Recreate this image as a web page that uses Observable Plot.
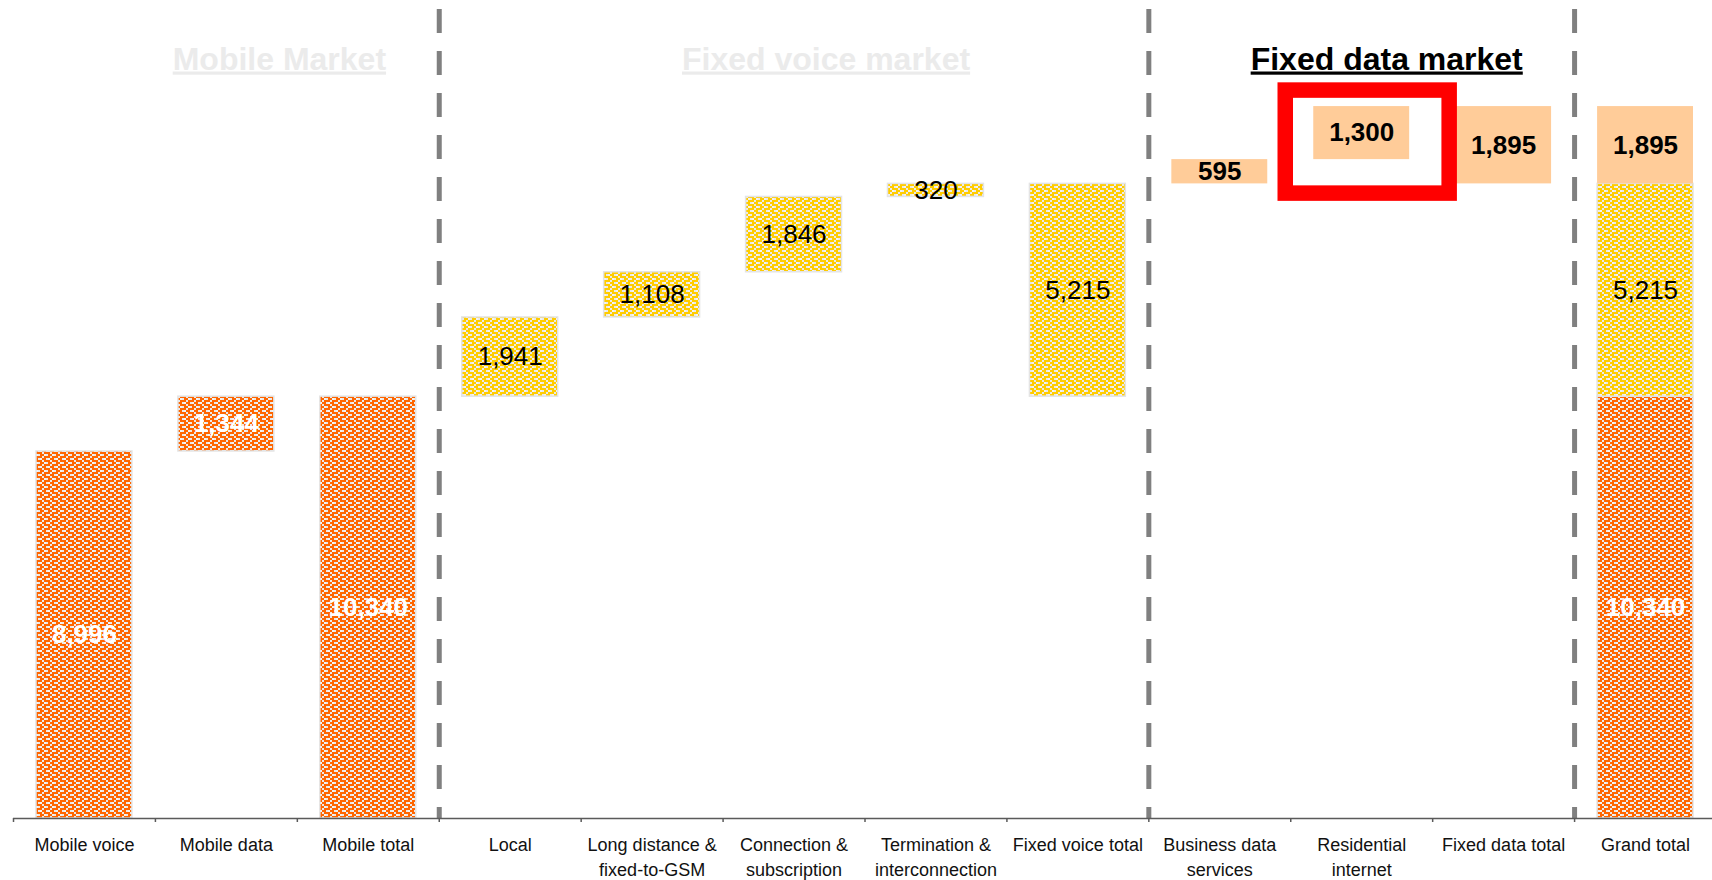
<!DOCTYPE html>
<html>
<head>
<meta charset="utf-8">
<script src="https://cdn.jsdelivr.net/npm/d3@7"></script>
<script src="https://cdn.jsdelivr.net/npm/@observablehq/plot@0.6"></script>
<style>
  html, body { margin: 0; padding: 0; background: #ffffff; overflow: hidden; }
</style>
</head>
<body>
<div id="chart"></div>
<script>
// ---- data ----
const categories = [
  "Mobile voice", "Mobile data", "Mobile total",
  "Local", "Long distance &\nfixed-to-GSM", "Connection &\nsubscription",
  "Termination &\ninterconnection", "Fixed voice total",
  "Business data\nservices", "Residential\ninternet", "Fixed data total",
  "Grand total"
];
const markets = ["mobile", "mobile", "mobile", "voice", "voice", "voice", "voice", "voice", "data", "data", "data", "all"];
const kinds = ["step", "step", "total", "step", "step", "step", "step", "total", "step", "step", "total", "grand"];
const values = [8996, 1344, 10340, 1941, 1108, 1846, 320, 5215, 595, 1300, 1895, 17450];
const marketKeys = ["mobile", "voice", "data"];
const sectionTitles = ["Mobile Market", "Fixed voice market", "Fixed data market"];
const sectionAnchors = ["Mobile data", "Connection &\nsubscription", "Residential\ninternet"];
const separators = ["Local", "Business data\nservices", "Grand total"];
const highlighted = "Residential\ninternet";

// ---- waterfall layout built from the data ----
const rows = [];
const marketStart = {};
const marketTotal = {};
let running = 0;
categories.forEach((cat, i) => {
  const m = markets[i], v = values[i], k = kinds[i];
  if (k === "step") {
    if (!(m in marketStart)) marketStart[m] = running;
    rows.push({cat, market: m, kind: k, value: v, y1: running, y2: running + v});
    running += v;
  } else if (k === "total") {
    marketTotal[m] = v;
    rows.push({cat, market: m, kind: k, value: v, y1: marketStart[m], y2: marketStart[m] + v});
  } else {
    marketKeys.forEach(mk => {
      rows.push({cat, market: mk, kind: k, value: marketTotal[mk], y1: marketStart[mk], y2: marketStart[mk] + marketTotal[mk]});
    });
  }
});

// ---- styling ----
const W = 1712, H = 880;
const marginLeft = 13, marginRight = -4, marginTop = 0, marginBottom = 62;
const step = (W - marginLeft - marginRight) / categories.length;
const font = "'Liberation Sans', Arial, Helvetica, sans-serif";
const fmt = d3.format(",");
const fills = {mobile: "url(#chkOrange)", voice: "url(#chkYellow)", data: "#FFCC99"};
const labelFills = {mobile: "#ffffff", voice: "#000000", data: "#000000"};
const labelWeights = {mobile: "bold", voice: "normal", data: "bold"};
const inset = 23;
const titleFills = ["#EBEBEB", "#EBEBEB", "#000000"];
const titleDx = [53, 32, 25];

const marks = [];

// dashed separators between markets
marks.push(Plot.ruleX(separators, {
  x: d => d, dx: -step / 2, stroke: "#808080", strokeWidth: 5,
  strokeDasharray: "24,18", strokeDashoffset: 33
}));

// bars
marketKeys.forEach(m => {
  const sel = rows.filter(r => r.market === m);
  marks.push(Plot.barY(sel, {
    x: "cat", y1: "y1", y2: "y2",
    fill: fills[m],
    stroke: m === "data" ? "none" : "#E4E4E4",
    strokeWidth: 1.5,
    insetLeft: inset, insetRight: inset
  }));
});

// yellow top edge of the fixed-voice segment in the grand total
marks.push(Plot.ruleY(rows.filter(r => r.kind === "grand" && r.market === "voice"), {
  x: "cat", y: "y2", dy: 1.5, stroke: "#FFCC00", strokeWidth: 3,
  insetLeft: inset, insetRight: inset
}));

// highlight box
marks.push(Plot.barY(rows.filter(r => r.cat === highlighted), {
  x: "cat", y1: "y1", y2: "y2", fill: "none", stroke: "#FF0000", strokeWidth: 15.5,
  insetLeft: -5, insetRight: -17, insetTop: -16, insetBottom: -34
}));

// axis baseline and boundary ticks
marks.push(Plot.ruleY([0], {stroke: "#5a5a5a", strokeWidth: 1.5}));
marks.push(Plot.ruleX(categories, {
  x: d => d, dx: -step / 2, y1: 0, y2: 0, insetBottom: -4,
  stroke: "#5a5a5a", strokeWidth: 1.5
}));

// value labels
marketKeys.forEach(m => {
  marks.push(Plot.text(rows.filter(r => r.market === m), {
    x: "cat", y: r => (r.y1 + r.y2) / 2, text: r => fmt(r.value),
    fill: labelFills[m], fontSize: 26,
    fontWeight: labelWeights[m],
    lineAnchor: "middle"
  }));
});

// category labels
marks.push(Plot.text(categories, {
  x: d => d, text: d => d, frameAnchor: "bottom", lineAnchor: "top",
  dy: 15, fontSize: 18, lineHeight: 25 / 18, fill: "#111111"
}));

// section titles
sectionTitles.forEach((t, i) => {
  marks.push(Plot.text([t], {
    x: () => sectionAnchors[i], text: d => d, frameAnchor: "top", lineAnchor: "bottom",
    dy: 69, dx: titleDx[i], fontSize: 32, fontWeight: "bold", fill: titleFills[i]
  }));
});

const svg = Plot.plot({
  width: W, height: H,
  marginLeft, marginRight, marginTop, marginBottom,
  style: {fontFamily: font, background: "#ffffff", overflow: "visible"},
  x: {domain: categories, padding: 0, round: false, axis: null},
  y: {domain: [0, 20050], axis: null},
  marks
});

// checker patterns (2px cells, light specks on a strong base colour)
const defs = d3.select(svg).insert("defs", ":first-child");
function checker(id, color) {
  const p = defs.append("pattern").attr("id", id)
    .attr("patternUnits", "userSpaceOnUse").attr("width", 8).attr("height", 8);
  p.append("rect").attr("width", 8).attr("height", 8).attr("fill", color).attr("shape-rendering", "crispEdges");
  [[2, 0], [6, 2], [2, 4], [6, 6], [0, 2], [4, 6]].forEach(([x, y], j) => {
    p.append("rect").attr("x", x).attr("y", y).attr("width", 2).attr("height", 2)
      .attr("fill", j < 4 ? "#EAEAEA" : "#F3F3F3").attr("shape-rendering", "crispEdges");
  });
}
checker("chkOrange", "#FF6600");
checker("chkYellow", "#FFCC00");

// underline section titles
d3.select(svg).selectAll("text")
  .filter(function () { return sectionTitles.includes(this.textContent); })
  .style("text-decoration", "underline");

document.getElementById("chart").appendChild(svg);
</script>
</body>
</html>
